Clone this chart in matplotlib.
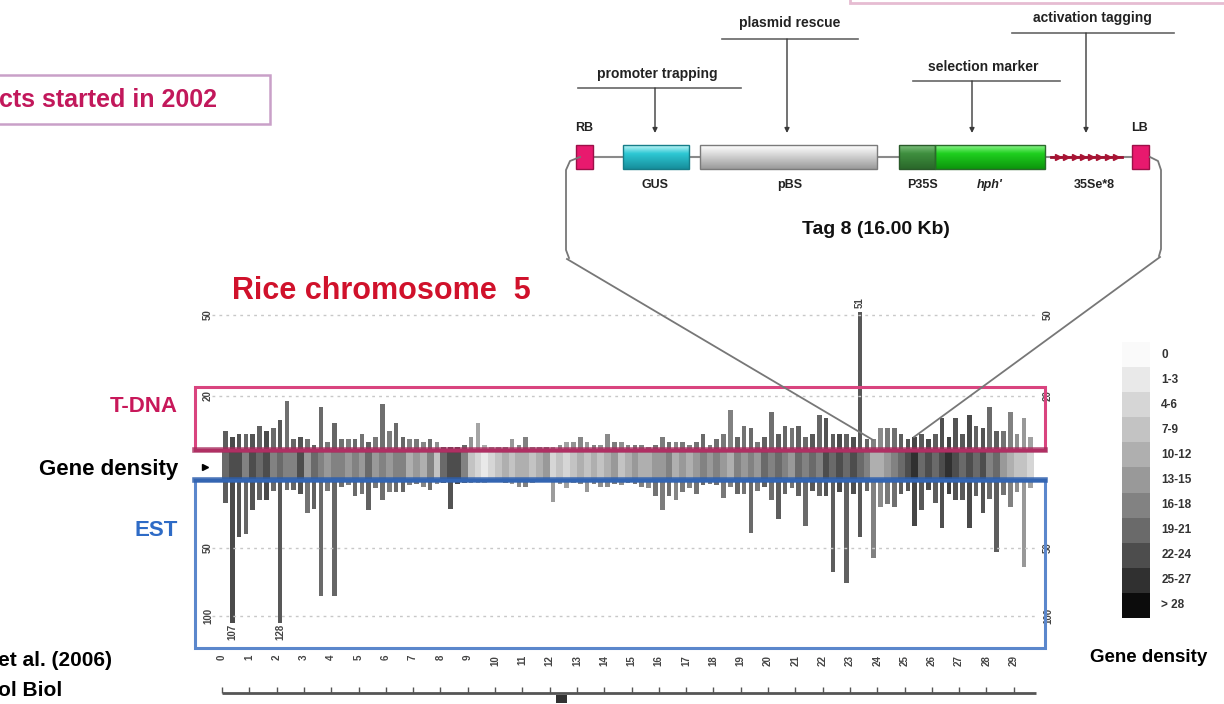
import numpy as np
import matplotlib.pyplot as plt
from matplotlib.patches import Rectangle
from matplotlib.colors import to_rgb

plt.rcParams['font.family'] = ['Liberation Sans', 'DejaVu Sans']
plt.rcParams['font.weight'] = 'bold'

# rice chromosome 5, counts per 0.25 Mb bin
bin_mb = 0.25
tdna = [7, 5, 6, 6,  6, 9, 7, 8,  11, 18, 4, 5,  4, 2, 16, 3,  10, 4, 4, 4,
        6, 3, 5, 17,  7, 10, 5, 4,  4, 3, 4, 3,  1, 1, 1, 2,  5, 10, 2, 1,
        1, 1, 4, 2,  5, 1, 1, 1,  1, 2, 3, 3,  5, 3, 2, 2,  6, 3, 3, 2,
        2, 2, 1, 2,  5, 3, 3, 3,  2, 3, 6, 2,  4, 6, 15, 5,  9, 8, 3, 5,
        14, 6, 9, 8,  9, 5, 6, 13,  12, 6, 6, 6,  5, 51, 4, 4,  8, 8, 8, 6,
        4, 5, 6, 4,  6, 12, 5, 12,  6, 13, 9, 8,  16, 7, 7, 14,  6, 12, 5]
est = [17, 107, 42, 40,  22, 15, 15, 8,  128, 7, 7, 10,  24, 21, 85, 8,  85, 5, 4, 12,
       10, 22, 6, 15,  9, 9, 9, 4,  3, 5, 7, 3,  2, 21, 3, 2,  2, 2, 2, 1,
       1, 2, 3, 5,  5, 2, 1, 1,  16, 3, 6, 2,  3, 9, 3, 5,  5, 3, 4, 2,
       3, 5, 6, 12,  22, 12, 15, 9,  6, 10, 4, 3,  4, 13, 5, 10,  10, 39, 8, 5,
       15, 29, 10, 6,  12, 34, 8, 12,  12, 68, 9, 76,  10, 42, 8, 57,  20, 18, 20, 10,
       8, 34, 22, 7,  17, 35, 10, 15,  15, 35, 12, 24,  14, 53, 11, 20,  9, 64, 6]
gene_density = [20, 24, 22, 18,  22, 19, 24, 17,  21, 16, 18, 22,  15, 19, 17, 14,  18, 16, 13, 17,
                15, 19, 14, 16,  13, 17, 18, 12,  14, 11, 16, 9,  19, 22, 24, 18,  8, 4, 3, 6,
                9, 11, 7, 10,  12, 8, 10, 13,  6, 9, 5, 8,  11, 7, 12, 9,  10, 13, 9, 11,
                14, 12, 10, 15,  13, 16, 11, 14,  12, 15, 17, 13,  16, 14, 12, 18,  15, 17, 14, 19,
                16, 20, 18, 15,  19, 17, 21, 18,  22, 20, 24, 19,  23, 21, 18, 12,  10, 14, 16, 20,
                22, 25, 21, 24,  20, 23, 26, 22,  21, 24, 19, 22,  17, 20, 15, 12,  9, 7, 5]
density_labels = ['0', '1-3', '4-6', '7-9', '10-12', '13-15', '16-18', '19-21', '22-24', '25-27', '> 28']
density_greys = ['#fafafa', '#e9e9e9', '#d6d6d6', '#c3c3c3', '#afafaf', '#999999',
                 '#828282', '#6a6a6a', '#4d4d4d', '#303030', '#0c0c0c']
mb_ticks = list(range(30))
chrom_len = 29.8
centromere = 12.45
tdna_grid = [20, 50]
est_grid = [50, 100]
est_clip = 105

W, H = 1224, 704
X0_PX, PX_PER_MB = 222, 27.3


def mb(px):
    return (px - X0_PX) / PX_PER_MB


fig = plt.figure(figsize=(W / 100, H / 100), dpi=100)


def px_axes(x0, y0, x1, y1):
    ax = fig.add_axes([x0 / W, 1 - y1 / H, (x1 - x0) / W, (y1 - y0) / H])
    ax.patch.set_alpha(0)
    for s in ax.spines.values():
        s.set_visible(False)
    ax.set_xticks([])
    ax.set_yticks([])
    return ax


xlim = (mb(195), mb(1045))
centers = np.arange(len(tdna)) * bin_mb + bin_mb / 2
dens = np.array(gene_density)
cls = np.where(dens == 0, 0, np.minimum((dens - 1) // 3 + 1, 10))
strip_colors = [density_greys[c] for c in cls]
shade = 0.72 - 0.5 * np.minimum(dens, 28) / 28
bar_colors = [(s, s, s) for s in shade]
grid_kw = dict(color='#c8c8c8', lw=1, ls=(0, (2, 3)), xmin=0.02, xmax=0.99)
num_kw = dict(rotation=90, ha='center', va='center', fontsize=7, color='#444444')

# T-DNA bars (up)
ax_t = px_axes(195, 300, 1045, 450)
ax_t.set_xlim(xlim)
ax_t.set_ylim(0, 150 / 2.7)
for g in tdna_grid:
    ax_t.axhline(g, **grid_kw)
    ax_t.text(mb(208), g, str(g), **num_kw)
    ax_t.text(mb(1048), g, str(g), **num_kw)
ax_t.bar(centers, tdna, width=0.17, color=bar_colors, lw=0)
for c, v in zip(centers, tdna):
    if v > 50:
        ax_t.text(c, v + 1.5, str(v), rotation=90, ha='center', va='bottom', fontsize=7, color='#444444')

# gene density strip
ax_g = px_axes(195, 451, 1045, 479)
ax_g.set_xlim(xlim)
ax_g.set_ylim(0, 1)
ax_g.bar(centers, 1, width=bin_mb, color=strip_colors, lw=0)

# EST bars (down)
ax_e = px_axes(195, 480, 1045, 648)
ax_e.set_xlim(xlim)
ax_e.set_ylim(168 / 1.36, 0)
for g in est_grid:
    ax_e.axhline(g, **grid_kw)
    ax_e.text(mb(208), g, str(g), **num_kw)
    ax_e.text(mb(1048), g, str(g), **num_kw)
ax_e.bar(centers, np.minimum(est, est_clip), width=0.17, color=bar_colors, lw=0)
for c, v in zip(centers, est):
    if v > est_clip:
        ax_e.text(c, est_clip + 1, str(v), rotation=90, ha='center', va='top', fontsize=7, color='#444444')
ax_e.set_xticks(mb_ticks)
ax_e.set_xticklabels([str(t) for t in mb_ticks], rotation=90, fontsize=7, color='#444444')
ax_e.tick_params(axis='x', length=0, pad=5)

# ruler with centromere
ax_r = px_axes(195, 683, 1045, 703)
ax_r.set_xlim(xlim)
ax_r.set_ylim(0, 1)
ax_r.hlines(0.5, 0, chrom_len, color='#555555', lw=2)
ax_r.vlines(mb_ticks, 0.5, 0.78, color='#555555', lw=1)
ax_r.bar(centromere, 0.5, bottom=-0.1, width=0.4, color='#333333')

# gene density legend
ax_l = px_axes(1122, 342, 1150, 618)
ax_l.barh(range(len(density_greys)), 1, height=1, color=density_greys, lw=0)
ax_l.set_ylim(len(density_greys) - 0.5, -0.5)
ax_l.set_xlim(0, 1)
for i, lab in enumerate(density_labels):
    ax_l.text(1.4, i, lab, va='center', ha='left', fontsize=8.5, color='#333333')

# overlay in pixel coordinates: boxes, labels, construct
ov = fig.add_axes([0, 0, 1, 1])
ov.set_autoscale_on(False)
ov.set_xlim(0, W)
ov.set_ylim(H, 0)
ov.axis('off')
ov.patch.set_alpha(0)

ov.add_patch(Rectangle((195, 387), 850, 63, fill=False, ec='#d9447f', lw=2.2))
ov.add_patch(Rectangle((195, 480), 850, 168, fill=False, ec='#5b87cc', lw=2.2))
ov.plot([195, 1045], [450, 450], color='#a62a5c', lw=4, alpha=0.8)
ov.plot([195, 1045], [480, 480], color='#2d5fae', lw=4, alpha=0.85)
ov.plot(205, 467, marker='>', ms=5, color='k')

ov.text(178, 407, 'T-DNA', ha='right', va='center', fontsize=16, color='#c8185a')
ov.text(178, 470, 'Gene density', ha='right', va='center', fontsize=16, color='black')
ov.text(178, 530, 'EST', ha='right', va='center', fontsize=16, color='#2e6bc6')
ov.text(232, 291, 'Rice chromosome  5', ha='left', va='center', fontsize=22, color='#d0112b')
ov.text(1090, 657, 'Gene density', ha='left', va='center', fontsize=13.5, color='black')

ov.add_patch(Rectangle((-5, 75), 275, 49, fc='white', ec='#c9a0c8', lw=1.8))
ov.text(-1, 100, 'cts started in 2002', ha='left', va='center', fontsize=18, color='#c2185b')
ov.add_patch(Rectangle((850, -20), 400, 23, fill=False, ec='#e6bcd2', lw=2))
ov.text(-2, 661, 'et al. (2006)', ha='left', va='center', fontsize=15, color='black')
ov.text(-2, 690, 'ol Biol', ha='left', va='center', fontsize=15, color='black')


def grad_box(x0, x1, y0, y1, top, mid, bot, edge):
    t = np.linspace(0, 1, 40)[:, None, None]
    c0, c1, c2 = (np.array(to_rgb(c)) for c in (top, mid, bot))
    rgb = np.where(t < 0.35, c0 + (c1 - c0) * (t / 0.35), c1 + (c2 - c1) * ((t - 0.35) / 0.65))
    rgb = np.repeat(rgb, 2, axis=1)
    ov.imshow(rgb, extent=(x0, x1, y1, y0), aspect='auto', origin='upper', zorder=3)
    ov.add_patch(Rectangle((x0, y0), x1 - x0, y1 - y0, fill=False, ec=edge, lw=1, zorder=4))


# Tag 8 construct
ov.plot([593, 1132], [157, 157], color='#8a8a8a', lw=1.5, zorder=2)
ov.add_patch(Rectangle((576, 145), 17, 24, fc='#e8196e', ec='#9c1048', lw=1, zorder=4))
ov.add_patch(Rectangle((1132, 145), 17, 24, fc='#e8196e', ec='#9c1048', lw=1, zorder=4))
grad_box(623, 689, 145, 169, '#c0f6f8', '#2ec8d4', '#168e9b', '#167d88')
grad_box(700, 877, 145, 169, '#ffffff', '#dcdcdc', '#9a9a9a', '#7a7a7a')
grad_box(899, 935, 145, 169, '#7cc07c', '#3f8f3f', '#2a682a', '#2a5a2a')
grad_box(935, 1045, 145, 169, '#8af58a', '#1fcf1f', '#0c960c', '#2a6a2a')
ov.plot([1051, 1122], [157, 157], color='#9c1030', lw=2, zorder=3)
ov.plot(np.linspace(1058, 1116, 8), [157] * 8, ls='none', marker='>', ms=5, color='#a81434', zorder=4)

notes = [('promoter trapping', 657, 74, 578, 741, 88, 655),
         ('plasmid rescue', 790, 23, 722, 858, 39, 787),
         ('selection marker', 983, 67, 913, 1060, 81, 972),
         ('activation tagging', 1092, 18, 1012, 1174, 33, 1086)]
for txt, tx, ty, ux0, ux1, uy, ax_x in notes:
    ov.text(tx, ty, txt, ha='center', va='center', fontsize=10, color='#222222')
    ov.plot([ux0, ux1], [uy, uy], color='#666666', lw=1.2)
    ov.annotate('', xy=(ax_x, 133), xytext=(ax_x, uy),
                arrowprops=dict(arrowstyle='-|>', color='#3a3a3a', lw=1, mutation_scale=7,
                                shrinkA=0, shrinkB=0))

feat_kw = dict(ha='center', va='center', fontsize=9, color='#222222')
ov.text(655, 185, 'GUS', **feat_kw)
ov.text(790, 185, 'pBS', **feat_kw)
ov.text(922, 185, 'P35S', **feat_kw)
ov.text(990, 185, "hph'", style='italic', **feat_kw)
ov.text(1094, 185, '35Se*8', **feat_kw)
ov.text(584, 128, 'RB', **feat_kw)
ov.text(1140, 128, 'LB', **feat_kw)
ov.text(876, 229, 'Tag 8 (16.00 Kb)', ha='center', va='center', fontsize=14, color='#111111')

# bracket and zoom lines into chromosome
line_kw = dict(color='#777777', lw=1.3, zorder=5)
ov.plot([580, 570, 566, 566, 569], [157, 161, 170, 250, 258], **line_kw)
ov.plot([1150, 1158, 1161, 1161, 1159], [157, 161, 170, 249, 256], **line_kw)
ov.plot([567, 873], [259, 440], **line_kw)
ov.plot([1160, 914], [257, 437], **line_kw)

fig.savefig('out.png', dpi=100, facecolor='white')
